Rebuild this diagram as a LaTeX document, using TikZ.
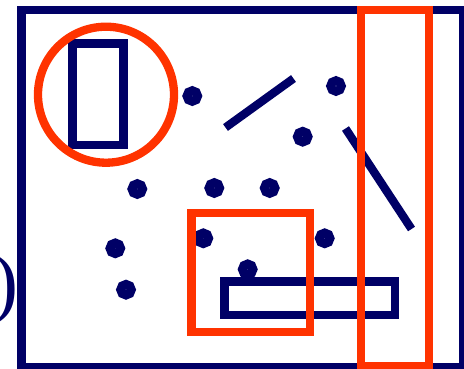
\documentclass[tikz,border=0pt]{standalone}
\usepackage{fontspec}
\setmainfont{Liberation Serif}
\definecolor{navy}{RGB}{0,0,102}
\definecolor{hilite}{RGB}{255,51,0}
\begin{document}
\begin{tikzpicture}[x=1pt,y=-1pt]
\tikzstyle{dot}=[draw=navy, circle, line width=9pt, minimum size=10.5pt, inner sep=0pt]
\tikzstyle{navyline}=[draw=navy, line width=8.3pt]
\tikzstyle{redline}=[draw=hilite, line width=8.3pt]
    \useasboundingbox (0,0) rectangle (464,368);

    \node[text=navy, inner sep=0pt, anchor=base east, font=\fontsize{78}{80}\selectfont] (paren) at (19,308) {)};

    \draw[navyline] (21.5,9.7) rectangle (463,367.5);
    \draw[navyline] (72.5,43.5) rectangle (123.5,145.3);
    \draw[navyline] (224.5,281.5) rectangle (394.8,315);

    \node[dot] (1) at (192.3,96) {};
    \node[dot] (2) at (336,86) {};
    \node[dot] (3) at (302.7,136.7) {};
    \node[dot] (4) at (137.3,189) {};
    \node[dot] (5) at (214.3,188) {};
    \node[dot] (6) at (269.7,188) {};
    \node[dot] (7) at (115.3,248.3) {};
    \node[dot] (8) at (126,289.7) {};
    \node[dot] (9) at (203.3,238.3) {};
    \node[dot] (10) at (324.7,238.3) {};
    \node[dot] (11) at (247.7,269.3) {};

    \coordinate (a1) at (225.5,127.5);
    \coordinate (a2) at (293.5,78.5);
    \coordinate (b1) at (345.5,128.5);
    \coordinate (b2) at (411.5,229);
    \draw[navyline] (a1) -- (a2);
    \draw[navyline] (b1) -- (b2);

    \draw[redline] (106,94.7) circle (68);
    \draw[redline] (191.5,213) rectangle (310,332);
    \draw[redline] (361,9.7) rectangle (429,366);

\end{tikzpicture}
\end{document}
